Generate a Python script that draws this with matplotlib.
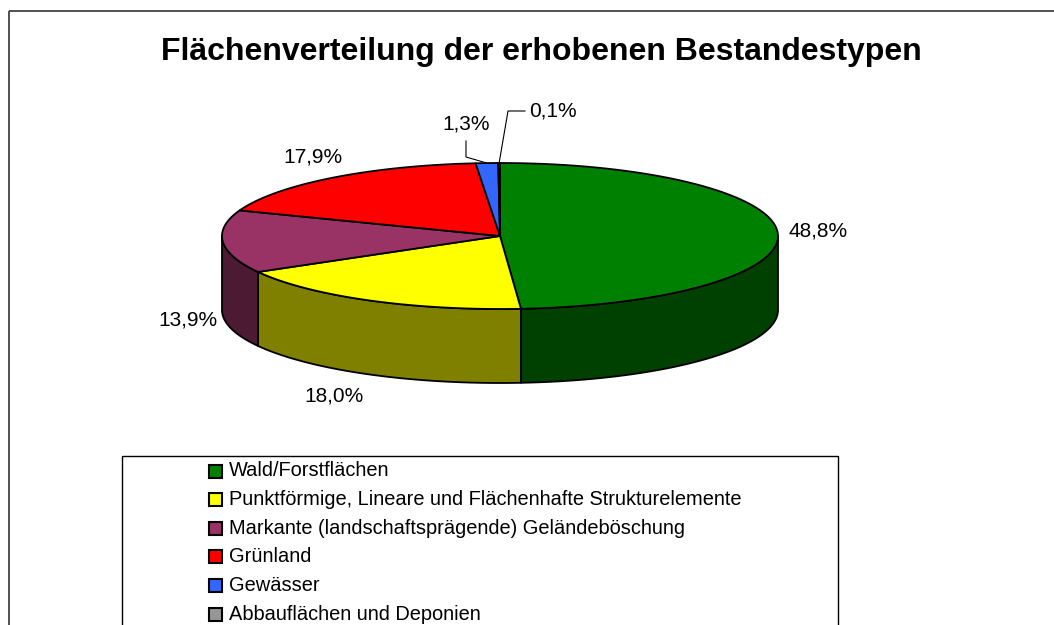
import numpy as np
import matplotlib
matplotlib.use('Agg')
from matplotlib import pyplot as plt
from matplotlib.patches import Polygon, Rectangle

plt.rcParams['font.family'] = ['Liberation Sans', 'DejaVu Sans']

# data
categories = ['Wald/Forstflächen',
              'Punktförmige, Lineare und Flächenhafte Strukturelemente',
              'Markante (landschaftsprägende) Geländeböschung',
              'Grünland',
              'Gewässer',
              'Abbauflächen und Deponien']
shares = [48.8, 18.0, 13.9, 17.9, 1.3, 0.1]
labels = ['48,8%', '18,0%', '13,9%', '17,9%', '1,3%', '0,1%']

# styles
top_colors = ['#008000', '#FFFF00', '#993366', '#FF0000', '#3366FF', '#969696']
side_colors = ['#004000', '#808000', '#4C1A33', '#800000', '#1A3380', '#4B4B4B']

# layout (pixel space)
W, H = 1054, 625
cx, cy, rx, ry, depth = 500, 236, 278, 73, 74
label_pos = [(818, 231), (334, 396), (188, 320), (313, 157), (466, 124), (553, 111)]
leader_elbows = {4: [(466, 141), (466, 157)], 5: [(525, 111), (508, 111)]}

fig = plt.figure(figsize=(W / 100, H / 100), dpi=100)
ax = fig.add_axes([0, 0, 1, 1])
ax.set_xlim(0, W)
ax.set_ylim(H, 0)
ax.axis('off')


def ell(theta, dy=0.0):
    t = np.radians(theta)
    return cx + rx * np.sin(t), cy - ry * np.cos(t) + dy


def arc(a0, a1, dy=0.0, n=80):
    th = np.linspace(a0, a1, n)
    x, y = ell(th, dy)
    return np.column_stack([x, y])


bounds = np.concatenate([[0], np.cumsum(shares)]) / sum(shares) * 360.0

# side walls (front half only: 90..270 deg)
for i in range(len(shares)):
    a0, a1 = max(bounds[i], 90), min(bounds[i + 1], 270)
    if a1 <= a0:
        continue
    top = arc(a0, a1)
    bot = arc(a0, a1, depth)[::-1]
    ax.add_patch(Polygon(np.vstack([top, bot]), closed=True, facecolor=side_colors[i],
                         edgecolor='black', lw=1.3, joinstyle='round'))

# top faces
for i in range(len(shares)):
    pts = np.vstack([[cx, cy], arc(bounds[i], bounds[i + 1])])
    ax.add_patch(Polygon(pts, closed=True, facecolor=top_colors[i],
                         edgecolor='black', lw=1.3, joinstyle='round'))

# labels and leader lines
for i, lab in enumerate(labels):
    x, y = label_pos[i]
    ax.text(x, y, lab, ha='center', va='center', fontsize=15, color='black')
    if i in leader_elbows:
        mid = (bounds[i] + bounds[i + 1]) / 2
        ex, ey = ell(mid)
        pts = leader_elbows[i] + [(ex, ey)]
        ax.plot([p[0] for p in pts], [p[1] for p in pts], color='black', lw=0.8)

# title
ax.text(541, 52, 'Flächenverteilung der erhobenen Bestandestypen', ha='center',
        va='center', fontsize=23, fontweight='bold', color='black')

# outer chart frame
ax.add_patch(Rectangle((9, 11), 1100, 700, fill=False, edgecolor='#333333', lw=1.2))

# legend box
ax.add_patch(Rectangle((122, 456), 716, 300, fill=False, edgecolor='black', lw=1.0))
row_y = 471
for i, name in enumerate(categories):
    y = row_y + i * 28.6
    ax.add_patch(Rectangle((209, y - 6.5), 13, 13, facecolor=top_colors[i],
                           edgecolor='black', lw=1.5))
    ax.text(229, y, name, ha='left', va='center', fontsize=14.4, color='black')

fig.savefig('out.png', dpi=100)
